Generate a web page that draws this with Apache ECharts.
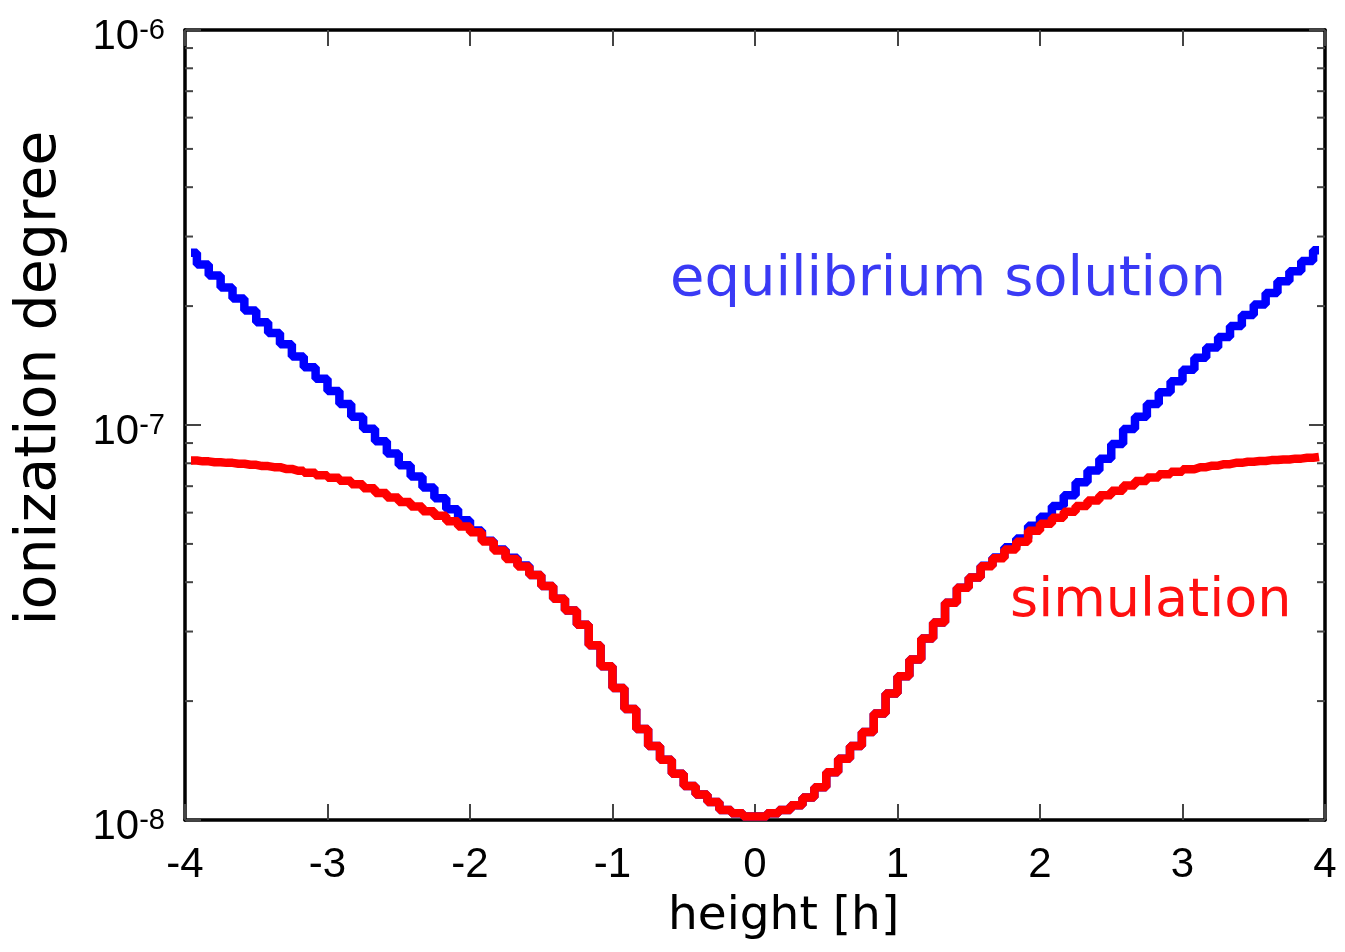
<!DOCTYPE html>
<html>
<head>
<meta charset="utf-8">
<script src="https://cdn.jsdelivr.net/npm/echarts@6/dist/echarts.min.js"></script>
<style>
  html, body { margin: 0; padding: 0; background: #fff; }
  #chart { width: 1345px; height: 952px; }
</style>
</head>
<body>
<div id="chart"></div>
<script>
// cell centres (height in units of h)
const heights = [
  -3.958, -3.875, -3.792, -3.708, -3.625, -3.542, -3.458, -3.375, -3.292, -3.208,
  -3.125, -3.042, -2.958, -2.875, -2.792, -2.708, -2.625, -2.542, -2.458, -2.375,
  -2.292, -2.208, -2.125, -2.042, -1.958, -1.875, -1.792, -1.708, -1.625, -1.542,
  -1.458, -1.375, -1.292, -1.208, -1.125, -1.042, -0.958, -0.875, -0.792, -0.708,
  -0.625, -0.542, -0.458, -0.375, -0.292, -0.208, -0.125, -0.042,
  0.042, 0.125, 0.208, 0.292, 0.375, 0.458, 0.542, 0.625, 0.708, 0.792,
  0.875, 0.958, 1.042, 1.125, 1.208, 1.292, 1.375, 1.458, 1.542, 1.625,
  1.708, 1.792, 1.875, 1.958, 2.042, 2.125, 2.208, 2.292, 2.375, 2.458,
  2.542, 2.625, 2.708, 2.792, 2.875, 2.958, 3.042, 3.125, 3.208, 3.292,
  3.375, 3.458, 3.542, 3.625, 3.708, 3.792, 3.875, 3.958
];

const equilibrium = [
  2.73e-7, 2.55e-7, 2.39e-7, 2.23e-7, 2.09e-7, 1.95e-7, 1.82e-7, 1.71e-7, 1.60e-7, 1.49e-7,
  1.40e-7, 1.31e-7, 1.22e-7, 1.13e-7, 1.05e-7, 9.79e-8, 9.10e-8, 8.47e-8, 7.91e-8, 7.41e-8,
  6.95e-8, 6.52e-8, 6.12e-8, 5.74e-8, 5.41e-8, 5.09e-8, 4.84e-8, 4.61e-8, 4.41e-8, 4.17e-8,
  3.91e-8, 3.63e-8, 3.39e-8, 3.12e-8, 2.77e-8, 2.45e-8, 2.16e-8, 1.91e-8, 1.70e-8, 1.54e-8,
  1.42e-8, 1.31e-8, 1.22e-8, 1.16e-8, 1.11e-8, 1.06e-8, 1.04e-8, 1.02e-8,
  1.02e-8, 1.04e-8, 1.06e-8, 1.09e-8, 1.14e-8, 1.21e-8, 1.32e-8, 1.43e-8, 1.54e-8, 1.67e-8,
  1.86e-8, 2.09e-8, 2.31e-8, 2.55e-8, 2.88e-8, 3.16e-8, 3.55e-8, 3.87e-8, 4.11e-8, 4.40e-8,
  4.62e-8, 4.90e-8, 5.16e-8, 5.56e-8, 5.86e-8, 6.24e-8, 6.64e-8, 7.16e-8, 7.67e-8, 8.22e-8,
  8.95e-8, 9.77e-8, 1.05e-7, 1.13e-7, 1.21e-7, 1.29e-7, 1.38e-7, 1.48e-7, 1.57e-7, 1.67e-7,
  1.78e-7, 1.90e-7, 2.02e-7, 2.16e-7, 2.31e-7, 2.45e-7, 2.60e-7, 2.77e-7
];

const simulation = [
  8.13e-8, 8.09e-8, 8.05e-8, 8.02e-8, 7.98e-8, 7.93e-8, 7.87e-8, 7.82e-8, 7.74e-8, 7.66e-8,
  7.57e-8, 7.46e-8, 7.35e-8, 7.23e-8, 7.08e-8, 6.92e-8, 6.73e-8, 6.55e-8, 6.38e-8, 6.22e-8,
  6.05e-8, 5.89e-8, 5.71e-8, 5.53e-8, 5.35e-8, 5.07e-8, 4.81e-8, 4.58e-8, 4.38e-8, 4.17e-8,
  3.91e-8, 3.63e-8, 3.39e-8, 3.12e-8, 2.77e-8, 2.45e-8, 2.16e-8, 1.91e-8, 1.70e-8, 1.54e-8,
  1.42e-8, 1.31e-8, 1.22e-8, 1.16e-8, 1.11e-8, 1.06e-8, 1.04e-8, 1.02e-8,
  1.02e-8, 1.04e-8, 1.06e-8, 1.09e-8, 1.14e-8, 1.21e-8, 1.32e-8, 1.43e-8, 1.54e-8, 1.67e-8,
  1.86e-8, 2.09e-8, 2.31e-8, 2.55e-8, 2.88e-8, 3.16e-8, 3.55e-8, 3.87e-8, 4.11e-8, 4.39e-8,
  4.60e-8, 4.84e-8, 5.06e-8, 5.40e-8, 5.62e-8, 5.82e-8, 6.03e-8, 6.24e-8, 6.44e-8, 6.64e-8,
  6.82e-8, 7.03e-8, 7.21e-8, 7.36e-8, 7.50e-8, 7.62e-8, 7.73e-8, 7.82e-8, 7.89e-8, 7.96e-8,
  8.02e-8, 8.07e-8, 8.11e-8, 8.15e-8, 8.18e-8, 8.22e-8, 8.26e-8, 8.30e-8
];

// minor log ticks drawn on both vertical sides
const minorTicks = [
  2e-8, 3e-8, 4e-8, 5e-8, 6e-8, 7e-8, 8e-8, 9e-8,
  2e-7, 3e-7, 4e-7, 5e-7, 6e-7, 7e-7, 8e-7, 9e-7
];

const xMin = -4, xMax = 4;
const tickFont = "'Liberation Sans', Arial, sans-serif";
const handFont = "'DejaVu Sans', sans-serif";

const chart = echarts.init(document.getElementById('chart'));

const frameLine = { show: true, onZero: false, lineStyle: { color: '#000', width: 3.5 } };
const majorTick = { show: true, inside: true, length: 16, lineStyle: { color: '#444', width: 2 } };

chart.setOption({
  animation: false,
  backgroundColor: '#fff',
  grid: { left: 185, right: 20, top: 30, bottom: 132 },
  xAxis: [
    {
      type: 'value', min: xMin, max: xMax, interval: 1, position: 'bottom',
      axisLine: frameLine, axisTick: majorTick, splitLine: { show: false },
      axisLabel: { margin: 24, fontSize: 42, fontFamily: tickFont, color: '#000' }
    },
    {
      type: 'value', min: xMin, max: xMax, interval: 1, position: 'top',
      axisLine: frameLine, axisTick: majorTick, splitLine: { show: false },
      axisLabel: { show: false }
    }
  ],
  yAxis: [
    {
      type: 'log', logBase: 10, min: 1e-8, max: 1e-6, position: 'left',
      axisLine: frameLine, axisTick: majorTick, splitLine: { show: false },
      axisLabel: {
        margin: 20, color: '#000', padding: [14, 0, 0, 0],
        formatter: v => '{b|10}{s|' + Math.round(Math.log10(v)) + '}',
        rich: {
          b: { fontSize: 42, fontFamily: tickFont, color: '#000', verticalAlign: 'bottom', lineHeight: 42 },
          s: { fontSize: 29, fontFamily: tickFont, color: '#000', verticalAlign: 'top', lineHeight: 29, padding: [0, 0, 24, 0] }
        }
      }
    },
    {
      type: 'log', logBase: 10, min: 1e-8, max: 1e-6, position: 'right',
      axisLine: frameLine, axisTick: majorTick, splitLine: { show: false },
      axisLabel: { show: false }
    }
  ],
  graphic: [
    {
      type: 'text', left: 668, top: 893,
      style: { text: 'height [h]', font: '47px ' + handFont, fill: '#000' }
    },
    {
      type: 'text', x: 40, y: 378, rotation: Math.PI / 2,
      style: { text: 'ionization degree', font: '57px ' + handFont, fill: '#000', textAlign: 'center', textVerticalAlign: 'middle' }
    },
    {
      type: 'text', left: 670, top: 252,
      style: { text: 'equilibrium solution', font: '56px ' + handFont, fill: '#3a3af5' }
    },
    {
      type: 'text', left: 1010, top: 575,
      style: { text: 'simulation', font: '54px ' + handFont, fill: '#ff1010' }
    }
  ],
  series: [
    {
      name: 'equilibrium solution', type: 'line', step: 'middle', showSymbol: false,
      lineStyle: { color: '#0000ff', width: 8.5 },
      data: heights.map((h, i) => [h, equilibrium[i]])
    },
    {
      name: 'simulation', type: 'line', step: 'middle', showSymbol: false,
      lineStyle: { color: '#ff0000', width: 8.5 },
      data: heights.map((h, i) => [h, simulation[i]])
    },
    {
      type: 'custom', silent: true, clip: false,
      data: minorTicks.map(v => [xMin, v]),
      renderItem: (params, api) => {
        const v = api.value(1);
        const pl = api.coord([xMin, v]);
        const pr = api.coord([xMax, v]);
        const style = { stroke: '#444', lineWidth: 2 };
        return {
          type: 'group',
          children: [
            { type: 'line', shape: { x1: pl[0], y1: pl[1], x2: pl[0] + 8, y2: pl[1] }, style },
            { type: 'line', shape: { x1: pr[0], y1: pr[1], x2: pr[0] - 8, y2: pr[1] }, style }
          ]
        };
      }
    }
  ]
});
</script>
</body>
</html>
